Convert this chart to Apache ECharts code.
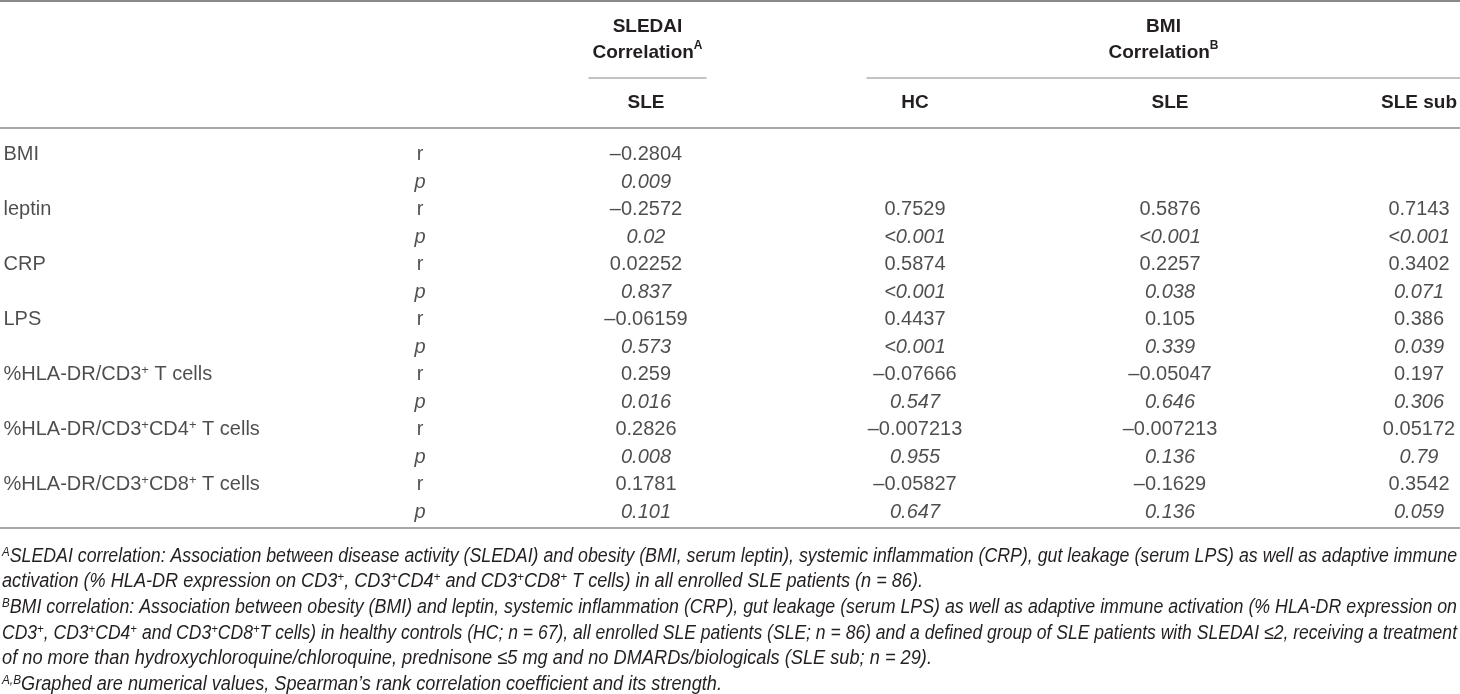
<!DOCTYPE html>
<html><head><meta charset="utf-8">
<script src="https://cdn.jsdelivr.net/npm/echarts@6/dist/echarts.min.js"></script>
<style>html,body{margin:0;padding:0;background:#fff}#c{width:1460px;height:694px}</style>
</head><body><div id="c"></div>
<script>
// ---------- data ----------
const variables = ['BMI', 'leptin', 'CRP', 'LPS',
  '%HLA-DR/CD3^+ T cells', '%HLA-DR/CD3^+CD4^+ T cells', '%HLA-DR/CD3^+CD8^+ T cells'];
const statLabels = ['r', 'p'];
const groupHeaders = ['SLEDAI\nCorrelation^A', 'BMI\nCorrelation^B'];
const subHeaders = ['SLE', 'HC', 'SLE', 'SLE sub'];
const sledaiSLE_r = [-0.2804, -0.2572, 0.02252, -0.06159, 0.259, 0.2826, 0.1781];
const sledaiSLE_p = ['0.009', '0.02', '0.837', '0.573', '0.016', '0.008', '0.101'];
const bmiHC_r = [null, 0.7529, 0.5874, 0.4437, -0.07666, -0.007213, -0.05827];
const bmiHC_p = [null, '<0.001', '<0.001', '<0.001', '0.547', '0.955', '0.647'];
const bmiSLE_r = [null, 0.5876, 0.2257, 0.105, -0.05047, -0.007213, -0.1629];
const bmiSLE_p = [null, '<0.001', '0.038', '0.339', '0.646', '0.136', '0.136'];
const bmiSub_r = [null, 0.7143, 0.3402, 0.386, 0.197, 0.05172, 0.3542];
const bmiSub_p = [null, '<0.001', '0.071', '0.039', '0.306', '0.79', '0.059'];
const footnotes = [
  '^ASLEDAI correlation: Association between disease activity (SLEDAI) and obesity (BMI, serum leptin), systemic inflammation (CRP), gut leakage (serum LPS) as well as adaptive immune',
  'activation (% HLA-DR expression on CD3^+, CD3^+CD4^+ and CD3^+CD8^+ T cells) in all enrolled SLE patients (n = 86).',
  '^BBMI correlation: Association between obesity (BMI) and leptin, systemic inflammation (CRP), gut leakage (serum LPS) as well as adaptive immune activation (% HLA-DR expression on',
  'CD3^+, CD3^+CD4^+ and CD3^+CD8^+T cells) in healthy controls (HC; n = 67), all enrolled SLE patients (SLE; n = 86) and a defined group of SLE patients with SLEDAI \u22642, receiving a treatment',
  'of no more than hydroxychloroquine/chloroquine, prednisone \u22645 mg and no DMARDs/biologicals (SLE sub; n = 29).',
  '^{A,B}Graphed are numerical values, Spearman\u2019s rank correlation coefficient and its strength.'
];

// ---------- layout (not data) ----------
const W = 1460;
const rowTop = 140.75, rowH = 27.5;
const colLayout = [
  { left: 3, width: 380 },     // variable names
  { left: 400, width: 40 },    // r / p
  { left: 588, width: 116 },   // SLEDAI SLE
  { left: 867, width: 96 },    // BMI HC
  { left: 1110, width: 120 },  // BMI SLE
  { left: 1380, width: 78 }    // BMI SLE sub
];
const groupLayout = [{ left: 589, width: 117 }, { left: 867, width: 593 }];
const ruleY = [{ y: 1, c: '#8a8a8a' }, { y: 128, c: '#a8a8a8' }, { y: 528, c: '#a8a8a8' }];
const footY = [556, 581, 607, 633, 658, 684];
const footTargetW = [1455, 921, 1455, 1455, 930, 720];
const TXT = '#231f20';
const FONT = 'Liberation Sans';

// ---------- helpers ----------
const SUP = /\^\{([^}]*)\}|\^(.)/g;
function toRich(s) { return s.replace(SUP, (m, a, b) => '{sup|' + (a !== undefined ? a : b) + '}'); }
function parts(s) {
  const out = []; let last = 0;
  s.replace(SUP, (m, a, b, off) => {
    if (off > last) out.push({ t: s.slice(last, off), sup: false });
    out.push({ t: a !== undefined ? a : b, sup: true });
    last = off + m.length; return m;
  });
  if (last < s.length) out.push({ t: s.slice(last), sup: false });
  return out;
}
const fmtR = v => v == null ? '' : String(v).replace('-', '\u2013');

// cell texts per column (14 rows: r,p for each variable)
const rowKeys = [];
variables.forEach((v, i) => statLabels.forEach(s => rowKeys.push(i + s)));
const valueCols = [[sledaiSLE_r, sledaiSLE_p], [bmiHC_r, bmiHC_p], [bmiSLE_r, bmiSLE_p], [bmiSub_r, bmiSub_p]];
const columns = [];
columns.push(variables.flatMap(v => [{ t: v, it: false }, { t: '', it: false }]));
columns.push(variables.flatMap(() => [{ t: statLabels[0], it: false }, { t: statLabels[1], it: true }]));
valueCols.forEach(([r, p]) => columns.push(variables.flatMap((v, i) => [
  { t: fmtR(r[i]), it: false }, { t: p[i] == null ? '' : p[i], it: true }])));

const supRich = { sup: { fontSize: 13, lineHeight: 11, verticalAlign: 'top', fontFamily: FONT, color: TXT } };

const grid = [], xAxis = [], yAxis = [], series = [];
colLayout.forEach((L, ci) => {
  grid.push({ left: L.left, width: L.width, top: rowTop, height: rowH * rowKeys.length, outerBoundsMode: 'none', containLabel: false });
  const isLabel = ci === 0;
  const header = ci >= 2 ? subHeaders[ci - 2] : '';
  xAxis.push(isLabel ? { type: 'value', gridIndex: ci, min: 0, max: 1, show: false } : {
    type: 'category', gridIndex: ci, data: [header], position: 'top',
    axisLine: { show: false, onZero: false }, axisTick: { show: false }, splitLine: { show: false },
    axisLabel: { show: true, margin: rowTop - 103, verticalAlign: 'middle', fontFamily: FONT, fontWeight: 'bold', fontSize: 19, color: TXT, interval: 0 }
  });
  yAxis.push({ type: 'category', gridIndex: ci, data: rowKeys, inverse: true, show: false });
  const data = [];
  columns[ci].forEach((c, k) => {
    if (!c.t) return;
    data.push({ value: [0, k], txt: toRich(c.t), label: { fontStyle: c.it ? 'italic' : 'normal' } });
  });
  series.push({
    type: 'scatter', xAxisIndex: ci, yAxisIndex: ci, symbolSize: 1, silent: true,
    itemStyle: { color: 'rgba(0,0,0,0)' }, data,
    label: {
      show: true, position: isLabel ? 'right' : 'inside', distance: 0,
      formatter: p => p.data.txt, fontFamily: FONT, fontSize: 20, lineHeight: 22, color: TXT, rich: supRich
    }
  });
});

// group headers: their axis line is the short underline
groupLayout.forEach((L, gi) => {
  const gIdx = grid.length;
  grid.push({ left: L.left, width: L.width, top: 78, height: 10, outerBoundsMode: 'none', containLabel: false });
  xAxis.push({
    type: 'category', gridIndex: gIdx, data: [groupHeaders[gi]], position: 'top',
    axisLine: { show: true, onZero: false, lineStyle: { color: '#b0b0b0', width: 1.5 } },
    axisTick: { show: false }, splitLine: { show: false },
    axisLabel: {
      show: true, interval: 0, margin: 12, formatter: v => toRich(v),
      fontFamily: FONT, fontWeight: 'bold', fontSize: 19, lineHeight: 26, color: TXT,
      rich: { sup: { fontFamily: FONT, fontWeight: 'bold', fontSize: 12, lineHeight: 13, verticalAlign: 'top', color: TXT } }
    }
  });
  yAxis.push({ type: 'value', gridIndex: gIdx, show: false });
});

// footnotes
const ctx = document.createElement('canvas').getContext('2d');
function measure(s, family) {
  let w = 0;
  parts(s).forEach(p => { ctx.font = 'italic ' + (p.sup ? 13 : 20) + 'px "' + family + '"'; w += ctx.measureText(p.t).width; });
  return w;
}
const graphic = [];
ruleY.forEach(r => graphic.push({ type: 'line', silent: true, shape: { x1: 0, y1: r.y, x2: W, y2: r.y }, style: { stroke: r.c, lineWidth: 2 } }));
footnotes.forEach((f, i) => {
  const w = measure(f, FONT);
  graphic.push({
    type: 'text', x: 2, y: footY[i], scaleX: footTargetW[i] / w, silent: true,
    style: {
      text: toRich(f), fontFamily: FONT, fontStyle: 'italic', fontSize: 20, fill: TXT,
      verticalAlign: 'middle', align: 'left',
      rich: { sup: { fontFamily: FONT, fontStyle: 'italic', fontSize: 13, lineHeight: 11, verticalAlign: 'top', fill: TXT } }
    }
  });
});

const chart = echarts.init(document.getElementById('c'), null, { renderer: 'canvas' });
chart.setOption({ animation: false, backgroundColor: '#fff', grid, xAxis, yAxis, series, graphic });
</script></body></html>
